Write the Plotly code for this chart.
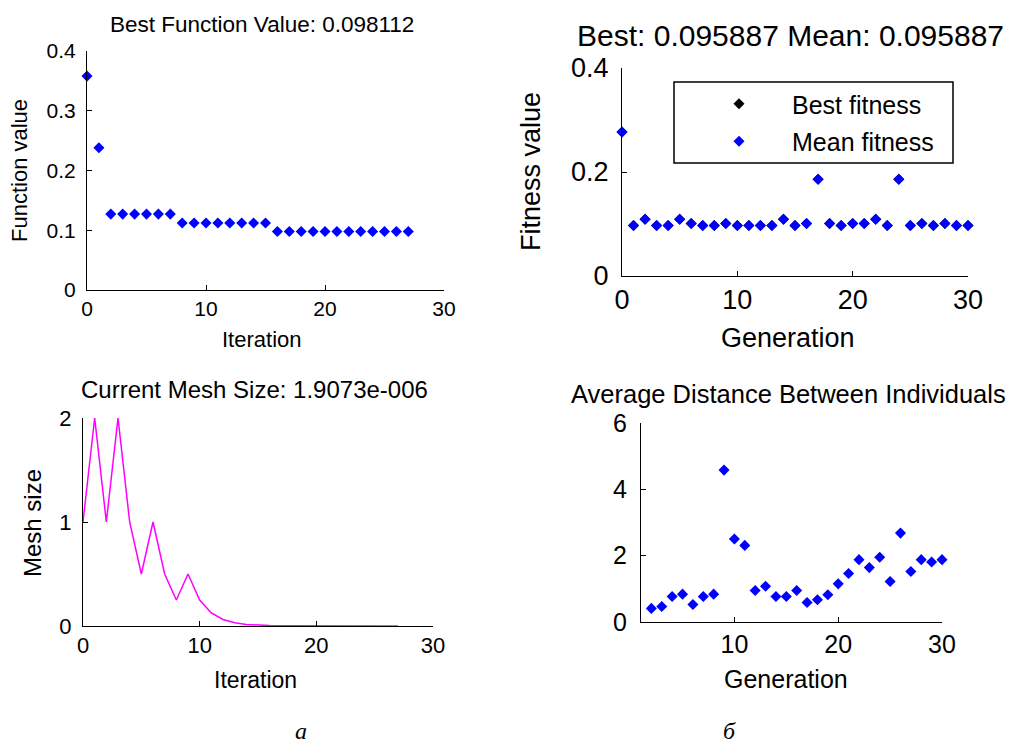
import plotly.graph_objects as go

W, H = 1010, 747
FONT = "Liberation Sans"

# ---------------- data ----------------
# (a, top) pattern search: best function value per iteration
iterations = list(range(0, 28))
best_function_value = [0.358, 0.238,
                       0.127, 0.127, 0.127, 0.127, 0.127, 0.127,
                       0.112, 0.112, 0.112, 0.112, 0.112, 0.112, 0.112, 0.112,
                       0.098, 0.098, 0.098, 0.098, 0.098, 0.098,
                       0.098, 0.098, 0.098, 0.098, 0.098, 0.098]

# (a, bottom) pattern search: mesh size per iteration
mesh_size = [1, 2, 1, 2, 1, 0.5, 1, 0.5, 0.25, 0.5, 0.25, 0.125,
             0.0625, 0.03125, 0.015625, 0.0078125, 0.00390625, 0.001953125,
             0.0009765625, 0.00048828125, 0.000244140625, 0.0001220703125,
             6.103515625e-05, 3.0517578125e-05, 1.52587890625e-05,
             7.62939453125e-06, 3.814697265625e-06, 1.9073486328125e-06]

# (б, top) genetic algorithm: fitness per generation
generations = list(range(0, 31))
mean_fitness = [0.277, 0.097, 0.109, 0.097, 0.097, 0.109, 0.101, 0.097, 0.097,
                0.101, 0.097, 0.097, 0.097, 0.097, 0.109, 0.097, 0.101, 0.186,
                0.101, 0.097, 0.101, 0.101, 0.109, 0.097, 0.186, 0.097, 0.101,
                0.097, 0.101, 0.097, 0.097]
best_fitness = [0.277, 0.097, 0.109, 0.097, 0.097, 0.109, 0.101, 0.097, 0.097,
                0.101, 0.097, 0.097, 0.097, 0.097, 0.109, 0.097, 0.101, 0.186,
                0.101, 0.097, 0.101, 0.101, 0.109, 0.097, 0.186, 0.097, 0.101,
                0.097, 0.101, 0.097, 0.097]

# (б, bottom) genetic algorithm: average distance between individuals
distance_generations = list(range(2, 31))
avg_distance = [0.41, 0.47, 0.77, 0.84, 0.53, 0.77, 0.84, 4.58, 2.50, 2.31,
                0.95, 1.08, 0.77, 0.77, 0.95, 0.59, 0.67, 0.82, 1.15, 1.46,
                1.88, 1.64, 1.95, 1.22, 2.68, 1.52, 1.88, 1.81, 1.88]

# ---------------- helpers ----------------
def dx(a, b):
    return [a / W, b / W]

def dy(top, bottom):
    return [1 - bottom / H, 1 - top / H]

def px(x):
    return x / W

def py(y):
    return 1 - y / H

def axis(domain, rng, dtick, size, anchor, standoff, tickvals=None):
    d = dict(domain=domain, range=rng, showline=True, linecolor="black",
             linewidth=1, ticks="inside", ticklen=5, tickcolor="black",
             tickwidth=1, showgrid=False, zeroline=False, mirror=False,
             anchor=anchor, ticklabelstandoff=standoff, automargin=False,
             tickfont=dict(family=FONT, size=size, color="black"))
    if tickvals is not None:
        d["tickmode"] = "array"
        d["tickvals"] = tickvals
    else:
        d["dtick"] = dtick
        d["tick0"] = 0
    return d

BLUE = "#0000FF"
diamond = dict(symbol="diamond", size=8.5, color=BLUE, line=dict(width=0))

fig = go.Figure()

fig.add_trace(go.Scatter(x=iterations, y=best_function_value, mode="markers",
                         marker=diamond, xaxis="x", yaxis="y",
                         showlegend=False, cliponaxis=False))

fig.add_trace(go.Scatter(x=generations, y=best_fitness, mode="markers",
                         marker=dict(symbol="diamond", size=8.5, color="black"),
                         name="Best fitness", legendgroup="best",
                         xaxis="x2", yaxis="y2", cliponaxis=False))
fig.add_trace(go.Scatter(x=generations, y=mean_fitness, mode="markers",
                         marker=diamond, name="Mean fitness", legendgroup="mean",
                         xaxis="x2", yaxis="y2", cliponaxis=False))

fig.add_trace(go.Scatter(x=iterations, y=mesh_size, mode="lines",
                         line=dict(color="#FF00FF", width=1.5),
                         xaxis="x3", yaxis="y3", showlegend=False,
                         cliponaxis=False))

fig.add_trace(go.Scatter(x=distance_generations, y=avg_distance, mode="markers",
                         marker=diamond, xaxis="x4", yaxis="y4",
                         showlegend=False, cliponaxis=False))

ann = []

def text(t, x, y, size, angle=0, family=FONT, italic=False, yanchor="middle"):
    ann.append(dict(text=("<i>%s</i>" % t) if italic else t,
                    x=px(x), y=py(y), xref="paper", yref="paper",
                    xanchor="center", yanchor=yanchor, showarrow=False,
                    textangle=angle,
                    font=dict(family=family, size=size, color="black")))

# titles
text("Best Function Value: 0.098112", 262, 25, 22.5)
text("Best: 0.095887 Mean: 0.095887", 790, 35, 30)
text("Current Mesh Size: 1.9073e-006", 254, 389, 24)
text("Average Distance Between Individuals", 788, 394, 25.5)
# axis labels
text("Function value", 20, 171, 22, angle=-90)
text("Iteration", 262, 339, 22)
text("Fitness value", 531, 172, 27, angle=-90)
text("Generation", 788, 338, 27)
text("Mesh size", 32, 523, 24, angle=-90)
text("Iteration", 255, 680, 23)
text("Generation", 786, 679, 25)
# panel letters
text("а", 301, 746, 24, family="Liberation Serif", italic=True, yanchor="bottom")
text("б", 729, 746, 24, family="Liberation Serif", italic=True, yanchor="bottom")

fig.update_layout(
    width=W, height=H,
    margin=dict(l=0, r=0, t=0, b=0, autoexpand=False),
    paper_bgcolor="white", plot_bgcolor="white",
    font=dict(family=FONT, color="black"),
    xaxis=axis(dx(87, 444), [0, 30], 10, 21, "y", 0),
    yaxis=axis(dy(51, 290), [0, 0.4], 0.1, 21, "x", 6),
    xaxis2=axis(dx(622, 968), [0, 30], 10, 27, "y2", 0),
    yaxis2=axis(dy(68, 276), [0, 0.4], 0.2, 27, "x2", 7),
    xaxis3=axis(dx(83, 433), [0, 30], 10, 22, "y3", 0),
    yaxis3=axis(dy(418, 626), [0, 2], 1, 22, "x3", 6),
    xaxis4=axis(dx(641, 942), [1, 30], 10, 25, "y4", 0, tickvals=[10, 20, 30]),
    yaxis4=axis(dy(423, 622), [0, 6], 2, 25, "x4", 8),
    annotations=ann,
    showlegend=True,
    legend=dict(x=px(686), y=py(81), xanchor="left", yanchor="top",
                bgcolor="rgba(0,0,0,0)", borderwidth=0,
                itemwidth=96, tracegroupgap=2,
                font=dict(family=FONT, size=25, color="black")),
    shapes=[dict(type="rect", xref="paper", yref="paper",
                 x0=px(674), x1=px(953), y0=py(163), y1=py(82),
                 line=dict(color="black", width=1.5), fillcolor="rgba(0,0,0,0)")],
)

fig.write_html("out.html",
               config={"displayModeBar": False},
               post_script="document.body.style.margin='0';"
                           "document.body.style.overflow='hidden';")
